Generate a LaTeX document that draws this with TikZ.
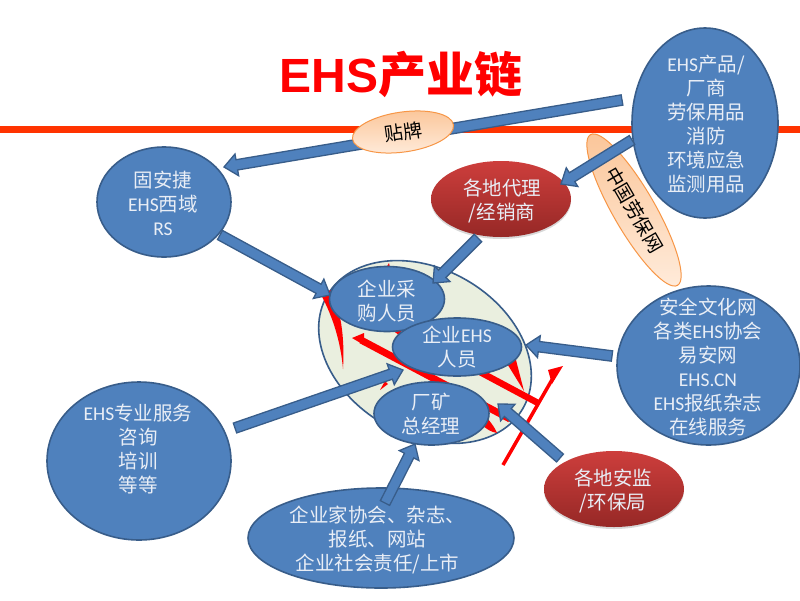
\documentclass[tikz,border=0pt]{standalone}
\usepackage{fontspec}
\setmainfont{Noto Sans CJK SC}
\newfontfamily\latf{Carlito}
\newfontfamily\titlef{Liberation Sans}[BoldFont={Liberation Sans Bold}]
\usetikzlibrary{shapes.geometric,calc,shadows}
\definecolor{bfill}{HTML}{4F81BD}
\definecolor{bline}{HTML}{385D8A}
\definecolor{wtext}{HTML}{E9EEF6}
\definecolor{orline}{HTML}{FF3300}
\definecolor{patchline}{HTML}{F79646}
\definecolor{paleg}{HTML}{EAEFDF}
\definecolor{redtop}{HTML}{CD3E3C}
\definecolor{redbot}{HTML}{962826}
\definecolor{peach}{HTML}{FBC598}
\definecolor{peachl}{HTML}{FFECDC}
\tikzset{
  x=1pt,y=-1pt,
  base/.style={ellipse,inner sep=0pt},
  blue node/.style={base,draw=bline,line width=1.6pt,fill=bfill},
  red node/.style={base,top color=redtop,bottom color=redbot,drop shadow={shadow xshift=0pt,shadow yshift=-2pt,opacity=.3}},
  txt/.style={inner sep=0pt,align=center,text=wtext,font=\fontsize{19.5}{24}\selectfont},
  patch/.style={base,draw=patchline,line width=1pt,top color=peach,bottom color=peachl,text=black,font=\fontsize{19}{22}\selectfont},
  block/.style={draw=bline,line width=1.3pt,fill=bfill,line join=miter},
  redbar/.style={fill=red,draw=none},
  redline/.style={draw=red,line cap=butt},
}
\newcommand{\blockarrow}[2]{%
  \coordinate (hb) at ($(#2)!13pt!(#1)$);
  \draw[block] ($(#1)!5.2pt!90:(#2)$) -- ($(hb)!5.2pt!90:(#2)$) -- ($(hb)!11pt!90:(#2)$) -- (#2)
    -- ($(hb)!11pt!-90:(#2)$) -- ($(hb)!5.2pt!-90:(#2)$) -- ($(#1)!5.2pt!-90:(#2)$) -- cycle;}
\begin{document}
\begin{tikzpicture}
\useasboundingbox (0,0) rectangle (800,600);
\fill[white] (0,0) rectangle (800,600);
% rule
\fill[orline] (0,126) rectangle (800,133);
% title
\node[text=red,inner sep=0pt] (title) at (401,74) {\fontsize{48}{54}\selectfont\bfseries{\titlef\bfseries EHS}产业链};
% big pale ellipse
\node[ellipse,draw=bline,line width=1.6pt,fill=paleg,minimum width=226pt,minimum height=166pt,rotate=-30,inner sep=0pt] (pool) at (425,352) {};
% red shapes inside
\fill[redbar] (352,338) -- (364,333) -- (364,345) -- cycle;
\draw[redline,line width=7pt] (361,340) -- (510,419);
\draw[redline,line width=6.5pt] (480,372) -- (538,403);
\fill[redbar] (320,293) .. controls (334,318) and (341,345) .. (343,369) .. controls (345,335) and (340,310) .. (332,290) -- cycle;
\fill[redbar] (506,362) -- (516,360) -- (524,391) -- cycle;
\fill[redbar] (386,268) -- (389,263) -- (390,268) -- cycle;
\fill[redbar] (380,390) -- (385,381) -- (388,384) -- cycle;
\fill[redbar] (392,330) -- (402,330) -- (399,335) -- cycle;
\fill[redbar] (481,424) -- (488,419) .. controls (492,424) and (495,428) .. (497,433) .. controls (491,432) and (486,429) .. (481,424) -- cycle;
\draw[redline,line width=3.5pt] (503,465) -- (553,378);
\fill[redbar] (563,366) -- (548,370) -- (552,384) -- cycle;
% nodes
\node[blue node,minimum width=134pt,minimum height=110pt] (gu) at (164,202) {};
\node[txt] (guT) at (163,203) {固安捷\\{\latf EHS}西域\\{\latf RS}};
\node[blue node,minimum width=146pt,minimum height=190pt] (prod) at (705,123) {};
\node[txt] (prodT) at (706,124) {{\latf EHS}产品/\\厂商\\劳保用品\\消防\\环境应急\\监测用品};
\node[red node,minimum width=140pt,minimum height=76pt] (agent) at (501,199) {};
\node[txt] (agentT) at (502,201) {各地代理\\/经销商};
\node[blue node,minimum width=115pt,minimum height=65pt] (buyer) at (387,299) {};
\node[txt] (buyerT) at (387,301) {企业采\\购人员};
\node[blue node,minimum width=129pt,minimum height=58pt] (ehs) at (457,347) {};
\node[txt] (ehsT) at (457,347.5) {企业{\latf EHS}\\人员};
\node[blue node,minimum width=115pt,minimum height=63pt] (mgr) at (431.5,413.5) {};
\node[txt] (mgrT) at (431,414) {厂矿\\总经理};
\node[blue node,minimum width=183pt,minimum height=159pt] (safety) at (708.5,365.5) {};
\node[txt] (safetyT) at (708,366.5) {安全文化网\\各类{\latf EHS}协会\\易安网\\{\latf EHS.CN}\\{\latf EHS}报纸杂志\\在线服务};
\node[red node,minimum width=140pt,minimum height=76pt] (bureau) at (614,489) {};
\node[txt] (bureauT) at (613,491) {各地安监\\/环保局};
\node[blue node,minimum width=184pt,minimum height=158pt] (service) at (139,461) {};
\node[txt] (serviceT) at (138,449) {{\latf EHS}专业服务\\咨询\\培训\\等等};
\node[blue node,minimum width=266pt,minimum height=100pt] (assoc) at (381,538) {};
\node[txt] (assocT) at (377.5,539.5) {企业家协会、杂志、\\报纸、网站\\企业社会责任/上市};
% patch under the arrows
\node[patch,minimum width=174pt,minimum height=42pt,rotate=-60] (lb) at (634,210) {中国劳保网};
% connector ends
\coordinate (p1) at (622,100);
\coordinate (g1) at (224,167);
\coordinate (p2) at (632,140);
\coordinate (a1) at (561,184);
\coordinate (g2) at (220,235);
\coordinate (b1) at (330,295);
\coordinate (a2) at (478,238);
\coordinate (b2) at (433,283);
\coordinate (s1) at (612,356);
\coordinate (e1) at (526,345);
\coordinate (v1) at (235,428);
\coordinate (e2) at (403,370);
\coordinate (c1) at (385,503);
\coordinate (m1) at (415,444);
\coordinate (u1) at (560,458);
\coordinate (m2) at (498,404);
\blockarrow{p1}{g1}
\blockarrow{p2}{a1}
\blockarrow{g2}{b1}
\blockarrow{a2}{b2}
\blockarrow{s1}{e1}
\blockarrow{v1}{e2}
\blockarrow{c1}{m1}
\blockarrow{u1}{m2}
% patch over the arrow
\node[patch,minimum width=102pt,minimum height=40pt,rotate=8] (tiepai) at (403,132) {贴牌};
\end{tikzpicture}
\end{document}
